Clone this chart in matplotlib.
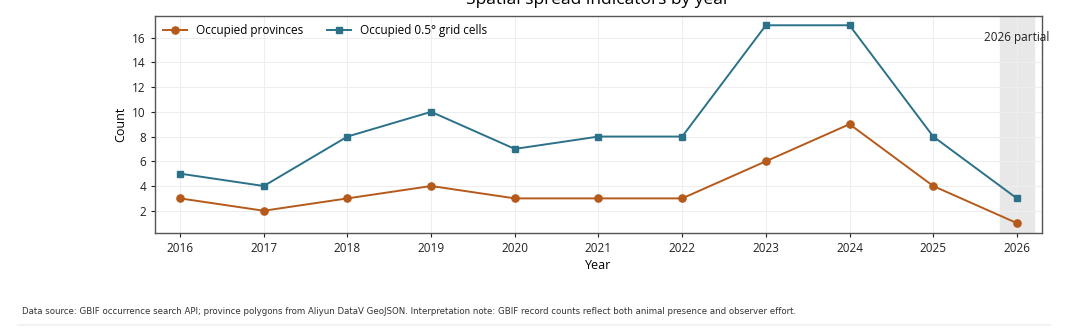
import matplotlib.pyplot as plt
from matplotlib.lines import Line2D

years = [2016, 2017, 2018, 2019, 2020, 2021, 2022, 2023, 2024, 2025, 2026]
provinces = [3, 2, 3, 4, 3, 3, 3, 6, 9, 4, 1]
grid_cells = [5, 4, 8, 10, 7, 8, 8, 17, 17, 8, 3]
partial_year = 2026

plt.rcParams['font.family'] = ['Open Sans', 'DejaVu Sans']

fig = plt.figure(figsize=(10.8, 3.36), dpi=100)
ax = fig.add_axes([155 / 1080, 1 - 233 / 336, (1042 - 155) / 1080, (233 - 16) / 336])

ax.axvspan(partial_year - 0.2, partial_year + 0.2, color='#e8e8e8', zorder=0)
ax.text(partial_year, 16.0, '2026 partial', ha='center', va='center', fontsize=8.5, color='#222222')

ax.plot(years, provinces, marker='o', color='#b65a1c', linewidth=1.4, markersize=5.2,
        label='Occupied provinces')
ax.plot(years, grid_cells, marker='s', color='#2b7189', linewidth=1.4, markersize=5.0,
        label='Occupied 0.5° grid cells')

ax.set_xlim(2015.7, 2026.3)
ax.set_ylim(0.2, 17.75)
ax.set_xticks(years)
ax.set_yticks(range(2, 17, 2))
ax.tick_params(labelsize=8.5, colors='#222222', length=3)
ax.grid(True, color='#eeeeee', linewidth=0.8)
ax.set_axisbelow(True)
for side in ax.spines.values():
    side.set_color('#555555')
    side.set_linewidth(1.0)

ax.set_xlabel('Year', fontsize=9, labelpad=3)
ax.set_ylabel('Count', fontsize=9, labelpad=4)
ax.set_title('Spatial spread indicators by year', fontsize=12.5, pad=9)

ax.legend(loc='upper left', ncol=2, frameon=False, fontsize=8.5, handlelength=2.0,
          columnspacing=2.0, borderaxespad=0.3)

# footer note
fig.text(22 / 1080, 1 - 311 / 336,
         'Data source: GBIF occurrence search API; province polygons from Aliyun DataV GeoJSON. '
         'Interpretation note: GBIF record counts reflect both animal presence and observer effort.',
         fontsize=6.25, color='#333333', va='center', family=['Liberation Sans Narrow', 'DejaVu Sans'])
fig.add_artist(Line2D([18 / 1080, 1050 / 1080], [1 - 325 / 336] * 2, color='#f2f2f2', linewidth=1.5))

fig.savefig('out.png', dpi=100)
